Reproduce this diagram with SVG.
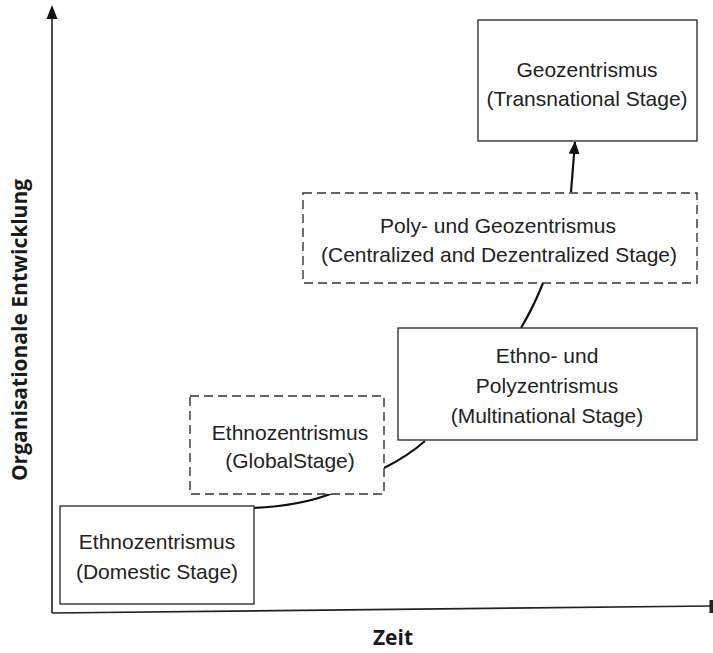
<svg xmlns="http://www.w3.org/2000/svg" width="713" height="653" viewBox="0 0 713 653">
<style>
.box{fill:#fff;stroke:#333;stroke-width:1.4}
.dash{stroke-dasharray:9 5}
.t{font-family:"Liberation Sans",Arial,sans-serif;font-size:21px;fill:#222;text-anchor:middle}
.lbl{font-family:"Open Sans","DejaVu Sans",sans-serif;font-weight:bold;font-size:21px;fill:#1a1a1a;text-anchor:middle}
.ax{stroke:#222;stroke-width:1.6;fill:none}
.con{stroke:#111;stroke-width:2.2;fill:none}
</style>
<defs>
<marker id="ah" markerWidth="13" markerHeight="11" refX="12" refY="5.5" orient="auto" markerUnits="userSpaceOnUse" viewBox="0 0 13 11">
<path d="M0,0 L13,5.5 L0,11 z" fill="#111"/>
</marker>
</defs>
<g id="axes">
<line class="ax" x1="52" y1="613" x2="52" y2="16"/>
<path d="M46.5,19 L57.5,19 L52,5 z" fill="#111"/>
<line class="ax" x1="52" y1="613" x2="711" y2="606"/>
<rect x="709.5" y="600" width="3.5" height="13" fill="#222"/>
<text class="lbl" x="393" y="645">Zeit</text>
<text class="lbl" transform="translate(27,330) rotate(-90)">Organisationale Entwicklung</text>
</g>
<g id="connectors">
<path class="con" d="M253,508 Q300,506 333,493"/>
<path class="con" d="M384,468 Q408,456 425,441"/>
<path class="con" d="M521,328 Q534,306 543,283"/>
<path class="con" d="M571,192 L575,142" marker-end="url(#ah)"/>
</g>
<g id="domestic">
<rect class="box" x="60" y="506" width="194" height="98"/>
<text class="t" x="157" y="549">Ethnozentrismus</text>
<text class="t" x="157" y="579">(Domestic Stage)</text>
</g>
<g id="global">
<rect class="box dash" x="190" y="396" width="194" height="98"/>
<text class="t" x="290" y="440">Ethnozentrismus</text>
<text class="t" x="290" y="468">(GlobalStage)</text>
</g>
<g id="multinational">
<rect class="box" x="398" y="328" width="299" height="112"/>
<text class="t" x="547" y="363">Ethno- und</text>
<text class="t" x="547" y="393">Polyzentrismus</text>
<text class="t" x="547" y="423">(Multinational Stage)</text>
</g>
<g id="centralized">
<rect class="box dash" x="303" y="193" width="394" height="90"/>
<text class="t" x="498" y="233">Poly- und Geozentrismus</text>
<text class="t" x="499" y="262">(Centralized and Dezentralized Stage)</text>
</g>
<g id="transnational">
<rect class="box" x="478" y="20" width="219" height="121"/>
<text class="t" x="587" y="77">Geozentrismus</text>
<text class="t" x="587" y="106">(Transnational Stage)</text>
</g>
</svg>
